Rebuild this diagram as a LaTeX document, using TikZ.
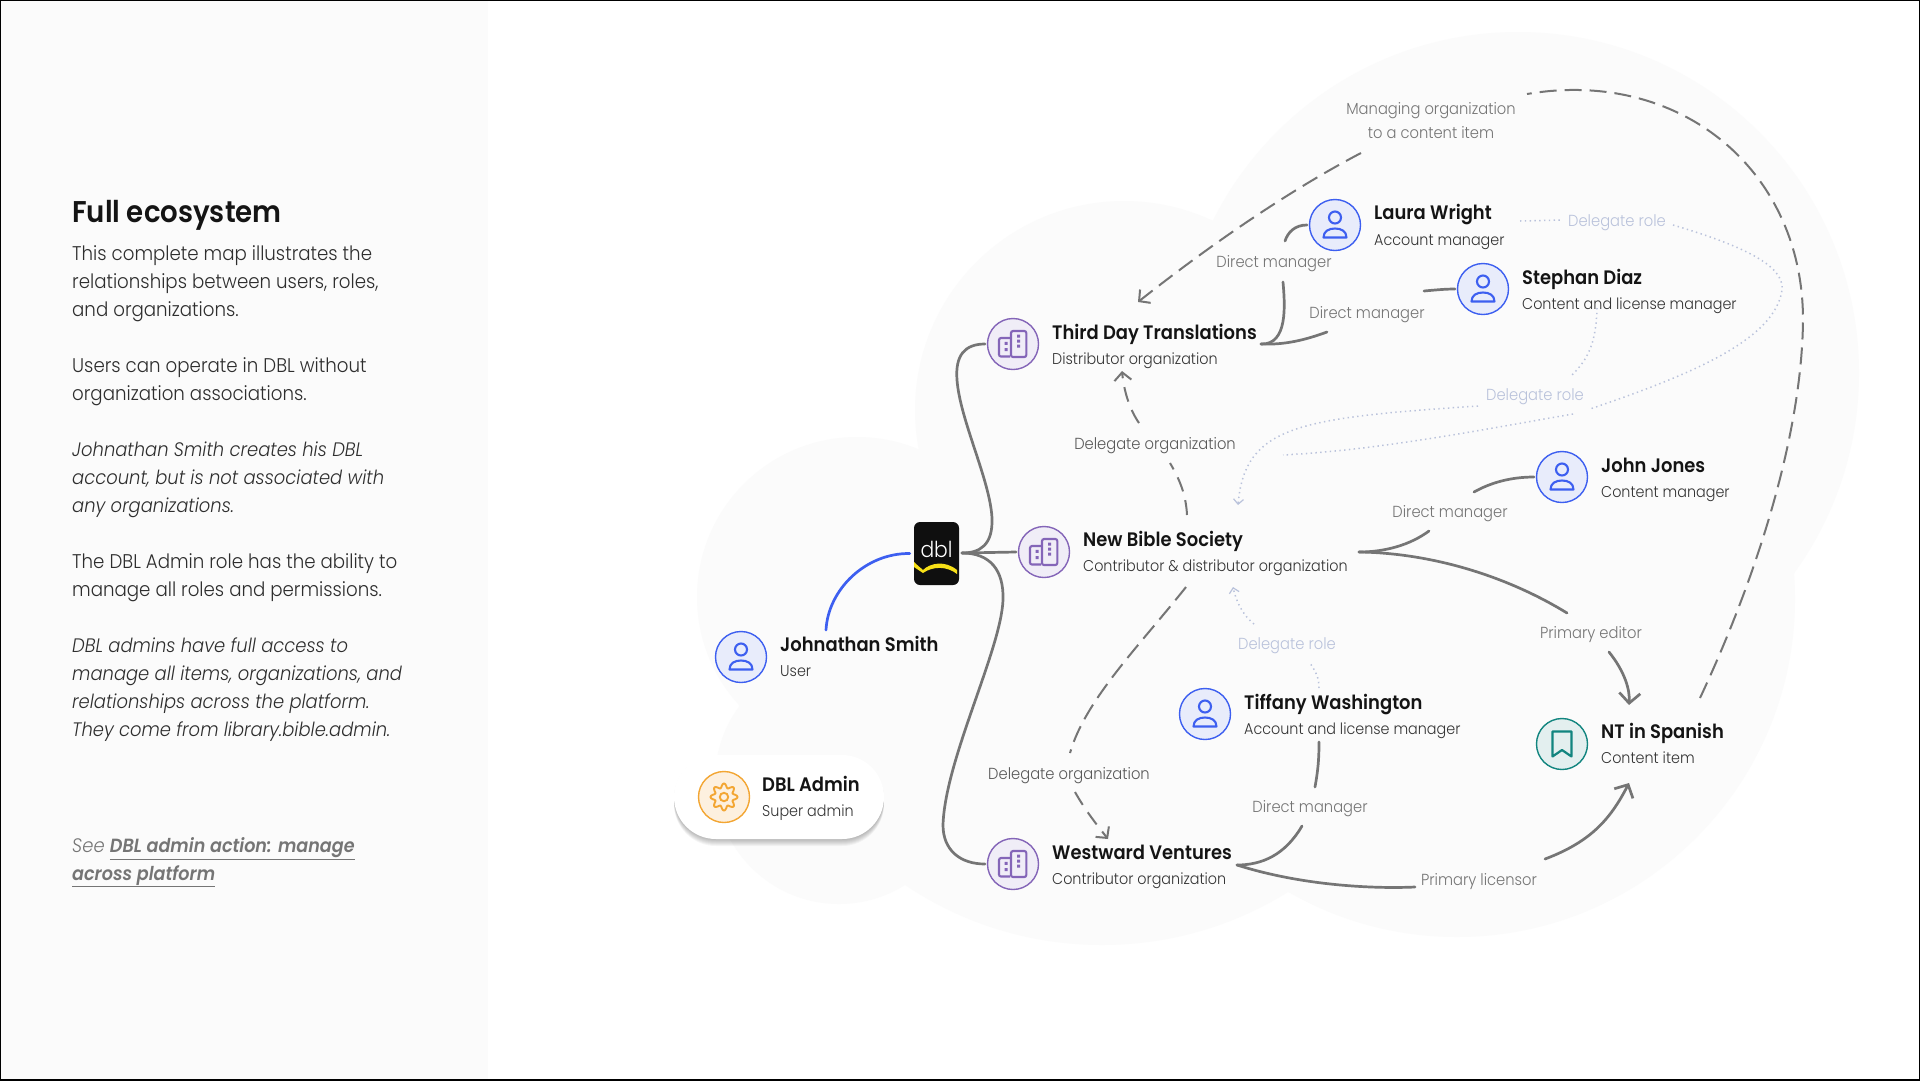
\documentclass[tikz,border=0pt]{standalone}
\usepackage{fontspec}
\setmainfont{Poppins Light}[FakeStretch=0.92,BoldFont=Poppins SemiBold,ItalicFont=Poppins Light Italic,BoldItalicFont=Poppins SemiBold Italic]
\usepackage{tikz}
\usetikzlibrary{arrows.meta}

\definecolor{blobgray}{HTML}{FBFBFB}
\definecolor{linegray}{HTML}{757575}
\definecolor{rolegray}{HTML}{B9C2DB}
\definecolor{persblue}{HTML}{3D5FF0}
\definecolor{persfill}{HTML}{E8ECFB}
\definecolor{orgpurple}{HTML}{8465B8}
\definecolor{orgfill}{HTML}{F0EDF7}
\definecolor{itemteal}{HTML}{12857F}
\definecolor{itemfill}{HTML}{E3EFEF}
\definecolor{adminorange}{HTML}{F3A633}
\definecolor{adminfill}{HTML}{FDF0DF}
\definecolor{dblyellow}{HTML}{F7E017}

\tikzset{
  icon/.style={circle,draw,line width=1.4pt,minimum size=51pt,inner sep=0pt,outer sep=2.5pt},
  persicon/.style={icon,draw=persblue,fill=persfill},
  orgicon/.style={icon,draw=orgpurple,fill=orgfill},
  itemicon/.style={icon,draw=itemteal,fill=itemfill},
  adminicon/.style={icon,draw=adminorange,fill=adminfill},
  nametext/.style={anchor=base west,inner sep=0pt,text=black!92,font=\fontsize{19.5}{24}\selectfont\bfseries},
  roletext/.style={anchor=base west,inner sep=0pt,text=black!80,font=\fontsize{15.6}{20}\selectfont},
  bodytext/.style={anchor=north west,inner sep=0pt,align=left,text=black!82,font=\fontsize{19.8}{28}\selectfont},
  slanttext/.style={bodytext,font=\fontsize{19.5}{28}\selectfont\itshape},
  rellabel/.style={inner sep=0pt,text=linegray,font=\fontsize{16}{24}\selectfont,text height=16pt,text depth=3pt},
  orglabel/.style={rellabel,text=black!65},
  delelabel/.style={rellabel,text=rolegray},
  solidline/.style={draw=linegray,line width=2.7pt,line cap=round},
  dashline/.style={draw=linegray,line width=2pt,dash pattern=on 17pt off 8pt},
  dotline/.style={draw=rolegray,line width=1.5pt,dash pattern=on 1.4pt off 3.4pt},
  bigtip/.style={-{Straight Barb[length=10pt,width=21pt,line width=2.7pt]}},
  smalltip/.style={-{Straight Barb[length=8pt,width=17pt,line width=2pt]}},
  thintip/.style={-{Straight Barb[length=5pt,width=10pt,line width=1.2pt]}},
  personglyph/.pic={
    \draw[persblue,line width=2.1pt] (0,-7.5) circle [radius=6];
    \draw[persblue,line width=2.1pt,line join=round] (-11.5,12.5) -- (11.5,12.5) .. controls (11.5,6) and (6,3.5) .. (0,3.5) .. controls (-6,3.5) and (-11.5,6) .. cycle;
  },
  orgglyph/.pic={
    \draw[orgpurple,line width=2.1pt,rounded corners=2pt] (-3,-6) -- (-14,-6) -- (-14,12.5) -- (-3,12.5);
    \draw[orgpurple,line width=2.1pt,rounded corners=2pt] (-2,-13) rectangle (13.3,13);
    \fill[orgpurple] (-8.5,-2.2) rectangle (-5.5,0.8) (-8.5,4) rectangle (-5.5,7);
    \fill[orgpurple] (4,-9.5) rectangle (7,-6.5) (4,-4.5) rectangle (7,-1.5) (4,0.5) rectangle (7,3.5);
  },
  bookglyph/.pic={
    \draw[itemteal,line width=2.2pt,line join=round] (-9.5,-12.5) -- (9.5,-12.5) -- (9.5,12.5) -- (0,6) -- (-9.5,12.5) -- cycle;
  },
  gearglyph/.pic={
    \draw[adminorange,line width=1.9pt,line join=round] plot[domain=0:360,samples=65,smooth] (\x:{11.4+2.2*cos(8*\x)}) -- cycle;
    \draw[adminorange,line width=1.9pt] (0,0) circle [radius=4.2];
  }
}

\begin{document}
\begin{tikzpicture}[x=1pt,y=-1pt]
\useasboundingbox (0,0) rectangle (1920,1080);

%backdrop
\fill[white] (0,0) rectangle (1920,1080);
\fill[blobgray] (0,0) rectangle (488,1080);
\fill[blobgray] (1518,373) circle [radius=341];
\fill[blobgray] (1457,599) circle [radius=338];
\fill[blobgray] (1124,410) circle [radius=209];
\fill[blobgray] (857,597) circle [radius=160];
\fill[blobgray] (839,780) circle [radius=124];
\begin{scope}
\clip (800,760) rectangle (1500,960);
\fill[blobgray] (1102,592) circle [radius=353];
\end{scope}
\fill[blobgray] (900,500) rectangle (1300,800);

%left column
\node[anchor=base west,inner sep=0pt,text=black!92,font=\fontsize{30}{32}\selectfont\bfseries] (maintitle) at (72,222) {Full ecosystem};
\node[bodytext] (introtext) at (72,245) {This complete map illustrates the\\relationships between users, roles,\\and organizations.};
\node[bodytext] (usertext) at (72,357) {Users can operate in DBL without\\organization associations.};
\node[slanttext] (smithtext) at (72,442) {Johnathan Smith creates his DBL\\account, but is not associated with\\any organizations.};
\node[bodytext] (admintext) at (72,553) {The DBL Admin role has the ability to\\manage all roles and permissions.};
\node[slanttext] (accesstext) at (72,638) {DBL admins have full access to\\manage all items, organizations, and\\relationships across the platform.\\They come from library.bible.admin.};
\node[slanttext,text=linegray] (seetext) at (72,837) {See \textbf{\fontsize{19.1}{28}\selectfont\underline{DBL admin action: manage}}\\\textbf{\fontsize{19.1}{28}\selectfont\underline{across platform}}};

%admin pill
\foreach \s in {7,6,5,4,3,2,1}
  \fill[black,opacity=0.04,rounded corners=42pt] (674,{755+\s}) rectangle (884,{839+\s});
\node[fill=white,rounded corners=42pt,minimum width=210pt,minimum height=84pt,inner sep=0pt] (adminpill) at (779,797) {};

%nodes
\node[adminicon] (dbladmin) at (724,797) {};
\pic at (dbladmin) {gearglyph};
\node[nametext] (dbladminname) at (762,791) {DBL Admin};
\node[roletext] (dbladminrole) at (762,816) {Super admin};

\node[persicon] (smith) at (741,657) {};
\pic at (smith) {personglyph};
\node[nametext] (smithname) at (780,651) {Johnathan Smith};
\node[roletext] (smithrole) at (780,676) {User};

\node[fill=black!94,rounded corners=6pt,minimum width=45pt,minimum height=63pt,inner sep=0pt] (dbl) at (936.5,553.5) {};
\node[inner sep=0pt,text=white,font=\fontsize{22}{22}\selectfont] (dbltext) at (936.5,549) {dbl};
\fill[dblyellow] (914,562) .. controls (918,566) and (921,568) .. (923,570) .. controls (930,563) and (945,560) .. (957,570) -- (957,574) .. controls (947,566) and (933,566) .. (923,573) .. controls (920,571) and (917,569) .. (914,567) -- cycle;

\node[orgicon] (thirdday) at (1013,344) {};
\pic at (thirdday) {orgglyph};
\node[nametext] (thirddayname) at (1052,339) {Third Day Translations};
\node[roletext] (thirddayrole) at (1052,364) {Distributor organization};

\node[orgicon] (newbible) at (1044,552) {};
\pic at (newbible) {orgglyph};
\node[nametext] (newbiblename) at (1083,546) {New Bible Society};
\node[roletext] (newbiblerole) at (1083,571) {Contributor \& distributor organization};

\node[orgicon] (westward) at (1013,864) {};
\pic at (westward) {orgglyph};
\node[nametext] (westwardname) at (1052,859) {Westward Ventures};
\node[roletext] (westwardrole) at (1052,884) {Contributor organization};

\node[persicon] (laura) at (1335,225) {};
\pic at (laura) {personglyph};
\node[nametext] (lauraname) at (1374,219) {Laura Wright};
\node[roletext] (laurarole) at (1374,245) {Account manager};

\node[persicon] (stephan) at (1483,289) {};
\pic at (stephan) {personglyph};
\node[nametext] (stephanname) at (1522,284) {Stephan Diaz};
\node[roletext] (stephanrole) at (1522,309) {Content and license manager};

\node[persicon] (john) at (1562,477) {};
\pic at (john) {personglyph};
\node[nametext] (johnname) at (1601,472) {John Jones};
\node[roletext] (johnrole) at (1601,497) {Content manager};

\node[persicon] (tiffany) at (1205,714) {};
\pic at (tiffany) {personglyph};
\node[nametext] (tiffanyname) at (1244,709) {Tiffany Washington};
\node[roletext] (tiffanyrole) at (1244,734) {Account and license manager};

\node[itemicon] (ntspanish) at (1562,744) {};
\pic at (ntspanish) {bookglyph};
\node[nametext] (ntname) at (1601,738) {NT in Spanish};
\node[roletext] (ntrole) at (1601,763) {Content item};

%labels on the lines
\node[rellabel,align=center,text height=,text depth=] (managelabel) at (1431,121) {Managing organization\\to a content item};
\node[rellabel] (lauramgr) at (1274,261) {Direct manager};
\node[rellabel] (stephanmgr) at (1367,312) {Direct manager};
\node[rellabel] (johnmgr) at (1450,511) {Direct manager};
\node[rellabel] (tiffanymgr) at (1310,806) {Direct manager};
\node[rellabel] (editorlabel) at (1591,632) {Primary editor};
\node[rellabel] (licensorlabel) at (1479,879) {Primary licensor};
\node[orglabel] (upperdeleg) at (1155,443) {Delegate organization};
\node[orglabel] (lowerdeleg) at (1069,773) {Delegate organization};
\node[delelabel] (lauradele) at (1617,220) {Delegate role};
\node[delelabel] (stephandele) at (1535,394) {Delegate role};
\node[delelabel] (tiffanydele) at (1287,643) {Delegate role};

\coordinate (dblhub) at (962,553);
\coordinate (thirdjoin) at (1261,344);
\coordinate (biblejoin) at (1359,552);
\coordinate (westjoin) at (1237,865);

%organizations to dbl
\draw[solidline,draw=persblue] ([shift={(85,-27)}]smith.center) .. controls (828,590) and (865,553) .. ([xshift=-4pt]dbl.west);
\draw[solidline] (dblhub) -- (newbible.west);
\draw[solidline] (dblhub) .. controls (980,553) and (993,545) .. (992,518) .. controls (990,480) and (960,420) .. (957,380) .. controls (955,355) and (965,344) .. (thirdday.west);
\draw[solidline] (dblhub) .. controls (990,553) and (1004,570) .. (1003,600) .. controls (1001,650) and (945,760) .. (943,825) .. controls (943,850) and (960,864) .. (westward.west);

%direct managers
\draw[solidline] (laura.west) .. controls (1295,225) and (1288,232) .. ([shift={(11,-20)}]lauramgr.center);
\draw[solidline] ([shift={(9,21)}]lauramgr.center) .. controls (1285,305) and (1288,345) .. (thirdjoin);
\draw[solidline] (stephan.west) .. controls (1445,289) and (1435,290) .. ([shift={(57,-21)}]stephanmgr.center);
\draw[solidline] ([shift={(-40,20)}]stephanmgr.center) .. controls (1305,340) and (1285,345) .. (thirdjoin);
\draw[solidline] (john.west) .. controls (1510,477) and (1490,483) .. ([shift={(24,-19)}]johnmgr.center);
\draw[solidline] ([shift={(-21,20)}]johnmgr.center) .. controls (1410,545) and (1385,552) .. (biblejoin);
\draw[solidline] ([shift={(114,28)}]tiffany.center) .. controls (1319,760) and (1318,770) .. ([shift={(5,-19)}]tiffanymgr.center);
\draw[solidline] ([shift={(-8,20)}]tiffanymgr.center) .. controls (1285,855) and (1262,865) .. (westjoin);

%primary roles
\draw[solidline] (biblejoin) .. controls (1430,553) and (1505,575) .. ([shift={(-24,-19)}]editorlabel.center);
\draw[solidline,bigtip] ([shift={(18,20)}]editorlabel.center) .. controls (1625,672) and (1630,690) .. ([shift={(67,-39)}]ntspanish.center);
\draw[solidline] (westjoin) .. controls (1300,885) and (1370,889) .. ([shift={(-64,8)}]licensorlabel.center);
\draw[solidline,bigtip] ([shift={(66,-20)}]licensorlabel.center) .. controls (1590,842) and (1610,820) .. ([shift={(67,39)}]ntspanish.center);

%managing organization
\draw[dashline] ([shift={(138,-46)}]ntspanish.center) .. controls (1760,570) and (1802,430) .. (1803,320) .. controls (1803,170) and (1680,68) .. ([shift={(96,-27)}]managelabel.center);
\draw[dashline,smalltip] ([shift={(-70,32)}]managelabel.center) .. controls (1290,190) and (1210,245) .. ([shift={(125,-42)}]thirdday.center);

%delegate organization
\draw[dashline,dash pattern=on 15pt off 9pt] ([shift={(143,-37)}]newbible.center) .. controls (1186,495) and (1180,480) .. ([shift={(15,20)}]upperdeleg.center);
\draw[dashline,dash pattern=on 15pt off 9pt,smalltip] ([shift={(-16,-20)}]upperdeleg.center) .. controls (1130,410) and (1124,392) .. ([shift={(109,27)}]thirdday.center);
\draw[dashline] ([shift={(142,35)}]newbible.center) .. controls (1140,645) and (1085,700) .. ([shift={(1,-20)}]lowerdeleg.center);
\draw[dashline,dash pattern=on 15pt off 9pt,smalltip] ([shift={(6,19)}]lowerdeleg.center) .. controls (1085,810) and (1097,825) .. ([shift={(95,-25)}]westward.center);

%delegate roles
\draw[dotline] ([shift={(146,2)}]lauraname.base west) -- ([shift={(-55,0)}]lauradele.center);
\draw[dotline] ([shift={(56,5)}]lauradele.center) .. controls (1740,245) and (1785,265) .. (1782,290) .. controls (1775,340) and (1690,375) .. ([shift={(55,15)}]stephandele.center);
\draw[dotline] ([shift={(38,20)}]stephandele.center) .. controls (1480,430) and (1380,450) .. ([shift={(239,-97)}]newbible.center);
\draw[dotline] ([shift={(75,24)}]stephanname.base west) .. controls (1596,345) and (1587,360) .. ([shift={(37,-19)}]stephandele.center);
\draw[dotline,thintip] ([shift={(-57,12)}]stephandele.center) .. controls (1300,418) and (1245,425) .. ([shift={(194,-47)}]newbible.center);
\draw[dotline] ([shift={(114,-26)}]tiffany.center) .. controls (1319,678) and (1316,672) .. ([shift={(23,20)}]tiffanydele.center);
\draw[dotline,thintip] ([shift={(-33,-19)}]tiffanydele.center) .. controls (1245,617) and (1237,605) .. ([shift={(189,35)}]newbible.center);

%frame
\draw[black,line width=2pt] (0,0) rectangle (1920,1080);
\end{tikzpicture}
\end{document}
